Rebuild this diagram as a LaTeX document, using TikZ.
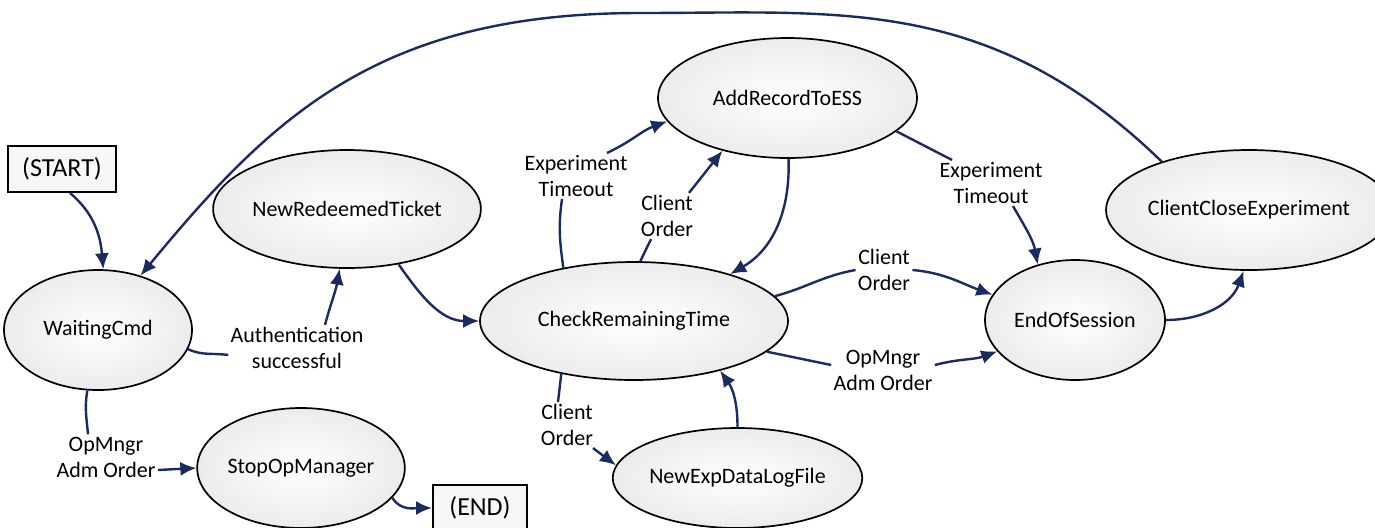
\documentclass[tikz,border=0pt]{standalone}
\usepackage{fontspec}
\setmainfont{Carlito}
\usetikzlibrary{arrows.meta,shapes.geometric}
\definecolor{arr}{RGB}{28,42,98}
\begin{document}
\begin{tikzpicture}[x=0.5pt,y=-0.5pt,
  state/.style={ellipse,draw=black,line width=0.85pt,inner color=white,outer color=gray!15,inner sep=0pt,font=\fontsize{11}{13}\selectfont},
  termbox/.style={rectangle,draw=black,line width=1pt,fill=gray!6,minimum height=23pt,inner sep=0pt,font=\fontsize{13}{15}\selectfont},
  lbl/.style={align=center,inner sep=1pt,font=\fontsize{11}{13}\selectfont},
  conn/.style={draw=arr,line width=1.2pt},
  arrow/.style={conn,-{Latex[length=8pt,width=7pt]}},
]
\useasboundingbox[fill=white] (0,0) rectangle (1375,527);

% terminal boxes
\node[termbox,minimum width=54pt] (START) at (62,169) {(START)};
\node[termbox,minimum width=47pt] (END) at (480,508) {(END)};

% states
\node[state,minimum width=94pt,minimum height=60pt] (WC) at (98,330) {WaitingCmd};
\node[state,minimum width=115pt,minimum height=59pt] (NRT) at (347,209) {NewRedeemedTicket};
\node[state,minimum width=99pt,minimum height=60pt] (SOM) at (301,468) {StopOpManager};
\node[state,minimum width=154pt,minimum height=59pt] (CRT) at (634,321) {CheckRemainingTime};
\node[state,minimum width=129.5pt,minimum height=60pt] (ARE) at (787.5,98) {AddRecordToESS};
\node[state,minimum width=114.5pt,minimum height=50pt] (NEDLF) at (737.5,478) {NewExpDataLogFile};
\node[state,minimum width=90pt,minimum height=60pt] (EOS) at (1075,320) {EndOfSession};
\node[state,minimum width=126pt,minimum height=60pt] (CCE) at (1249,210) {ClientCloseExperiment};

% labels
\node[lbl] (AUTH) at (297,348) {Authentication\\successful};
\node[lbl] (OPL) at (106,457) {OpMngr\\Adm Order};
\node[lbl] (EXP1) at (576,176) {Experiment\\Timeout};
\node[lbl] (CL1) at (667,216) {Client\\Order};
\node[lbl] (EXP2) at (991,183) {Experiment\\Timeout};
\node[lbl] (CL2) at (884,270) {Client\\Order};
\node[lbl] (OP2) at (883,370) {OpMngr\\Adm Order};
\node[lbl] (CL3) at (567,425) {Client\\Order};

% connectors
\draw[arrow] ([xshift=4pt]START.south) to[out=-40,in=95] (WC.85);
\draw[arrow] (CCE.151) .. controls (990,-5) and (840,13) .. (640,13)
   .. controls (380,13) and (273,115) .. (WC.52);

\draw[conn] (WC.-12) to[out=-25,in=172] ([yshift=-3.5pt]AUTH.west);
\draw[arrow] ([xshift=14pt]AUTH.north) to[out=75,in=-100] (NRT.-97);

\draw[conn] (WC.-100) to[out=-100,in=95] ([xshift=-9pt]OPL.north);
\draw[arrow] ([yshift=-6.5pt]OPL.east) -- (SOM.west);

\draw[arrow] (SOM.-18) to[out=-60,in=180] (END.west);

\draw[arrow] (NRT.-47) to[out=-55,in=180] (CRT.west);

\draw[conn] (CRT.143) to[out=98,in=-98] ([xshift=-7pt]EXP1.south);
\draw[arrow] ([xshift=15.5pt]EXP1.north) to[out=25,in=200] (ARE.191);

\draw[conn] (CRT.84) -- ([xshift=-8pt]CL1.south);
\draw[arrow] ([xshift=11pt]CL1.north) -- (ARE.-141);

\draw[arrow] (ARE.-89) to[out=-88,in=30] (CRT.26);

\draw[conn] (ARE.-17) -- ([xshift=-19.5pt]EXP2.north);
\draw[arrow] ([xshift=11pt]EXP2.south) to[out=-60,in=100] (EOS.124);

\draw[conn] (CRT.10) to[out=15,in=190] (CL2.west);
\draw[arrow] (CL2.east) to[out=-5,in=160] (EOS.163);

\draw[conn] (CRT.-13) -- ([yshift=2.5pt]OP2.west);
\draw[arrow] ([yshift=2.5pt]OP2.east) to[out=15,in=-160] (EOS.-158);

\draw[arrow] (EOS.east) to[out=0,in=-110] (CCE.-95);

\draw[conn] (CRT.-144) -- ([xshift=-4.5pt]CL3.north);
\draw[arrow] ([xshift=13pt]CL3.south) -- (NEDLF.174);

\draw[arrow] (NEDLF.90) to[out=90,in=-55] (CRT.-30);
\end{tikzpicture}
\end{document}
